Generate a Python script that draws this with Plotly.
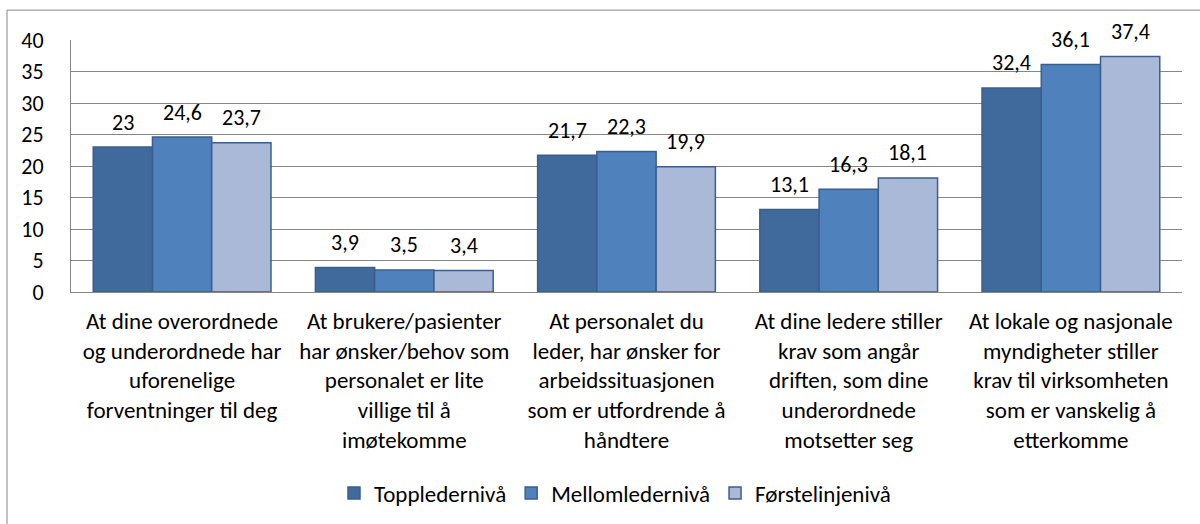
import plotly.graph_objects as go

categories = [
    "At dine overordnede<br>og underordnede har<br>uforenelige<br>forventninger til deg",
    "At brukere/pasienter<br>har ønsker/behov som<br>personalet er lite<br>villige til å<br>imøtekomme",
    "At personalet du<br>leder, har ønsker for<br>arbeidssituasjonen<br>som er utfordrende å<br>håndtere",
    "At dine ledere stiller<br>krav som angår<br>driften, som dine<br>underordnede<br>motsetter seg",
    "At lokale og nasjonale<br>myndigheter stiller<br>krav til virksomheten<br>som er vanskelig å<br>etterkomme",
]
series_names = ["Toppledernivå", "Mellomledernivå", "Førstelinjenivå"]
topp = [23, 3.9, 21.7, 13.1, 32.4]
mellom = [24.6, 3.5, 22.3, 16.3, 36.1]
forste = [23.7, 3.4, 19.9, 18.1, 37.4]
y_ticks = [0, 5, 10, 15, 20, 25, 30, 35, 40]

series_values = [topp, mellom, forste]
colors = ["#406A9C", "#4F81BD", "#AAB9D7"]
FONT = "Carlito, Lato, 'Open Sans', sans-serif"
FS = 22

# Layout geometry (pixels)
W, H = 1200, 524
L, R, T, B = 71, 18, 40, 231
pw, ph = W - L - R, H - T - B

fig = go.Figure()
for name, vals, col in zip(series_names, series_values, colors):
    fig.add_trace(go.Bar(
        name=name, x=categories, y=vals,
        marker=dict(color=col, line=dict(color="#3A5F8D", width=1.5)),
    ))

# data labels
cat_w = pw / len(categories)
bar_w = cat_w * 0.8 / 3
for i, vals in enumerate(series_values):
    off = (i - 1) * bar_w
    for c, v in zip(categories, vals):
        fig.add_annotation(
            x=c, y=v, xref="x", yref="y",
            text=str(v).replace(".", ","), showarrow=False,
            xshift=off, yshift=25, yanchor="middle",
            font=dict(family=FONT, size=FS, color="#000000"),
        )

# outer chart border
fig.add_shape(
    type="rect", xref="paper", yref="paper",
    x0=(7 - L) / pw, x1=(1210 - L) / pw,
    y0=(H - B - 540) / ph, y1=(H - B - 10) / ph,
    line=dict(color="#868686", width=1), fillcolor="rgba(0,0,0,0)", layer="below",
)

fig.update_layout(
    width=W, height=H,
    margin=dict(l=L, r=R, t=T, b=B, pad=0),
    paper_bgcolor="white", plot_bgcolor="white",
    barmode="group", bargap=0.2, bargroupgap=0,
    separators=", ",
    font=dict(family=FONT, size=FS, color="#000000"),
    showlegend=True,
    legend=dict(
        orientation="h", x=(615 - L) / pw, xanchor="center",
        y=(H - B - 493) / ph, yanchor="middle",
        font=dict(family=FONT, size=23, color="#000000"),
        itemwidth=30, traceorder="normal", bgcolor="rgba(0,0,0,0)",
    ),
    xaxis=dict(
        showline=True, linecolor="#868686", linewidth=1,
        ticks="", showgrid=False, tickangle=0, automargin=False,
        ticklabelstandoff=8,
        tickfont=dict(family=FONT, size=23, color="#000000"),
    ),
    yaxis=dict(
        range=[0, 40], tickvals=y_ticks, ticktext=[str(t) for t in y_ticks],
        showgrid=True, gridcolor="#868686", gridwidth=1,
        showline=True, linecolor="#868686", linewidth=1, automargin=False,
        zeroline=False, ticks="", ticklabelstandoff=22,
        tickfont=dict(family=FONT, size=FS, color="#000000"),
    ),
)

fig.write_html(
    "out.html",
    config={"displayModeBar": False},
    post_script="document.body.style.margin='0';document.body.style.overflow='hidden';",
)
